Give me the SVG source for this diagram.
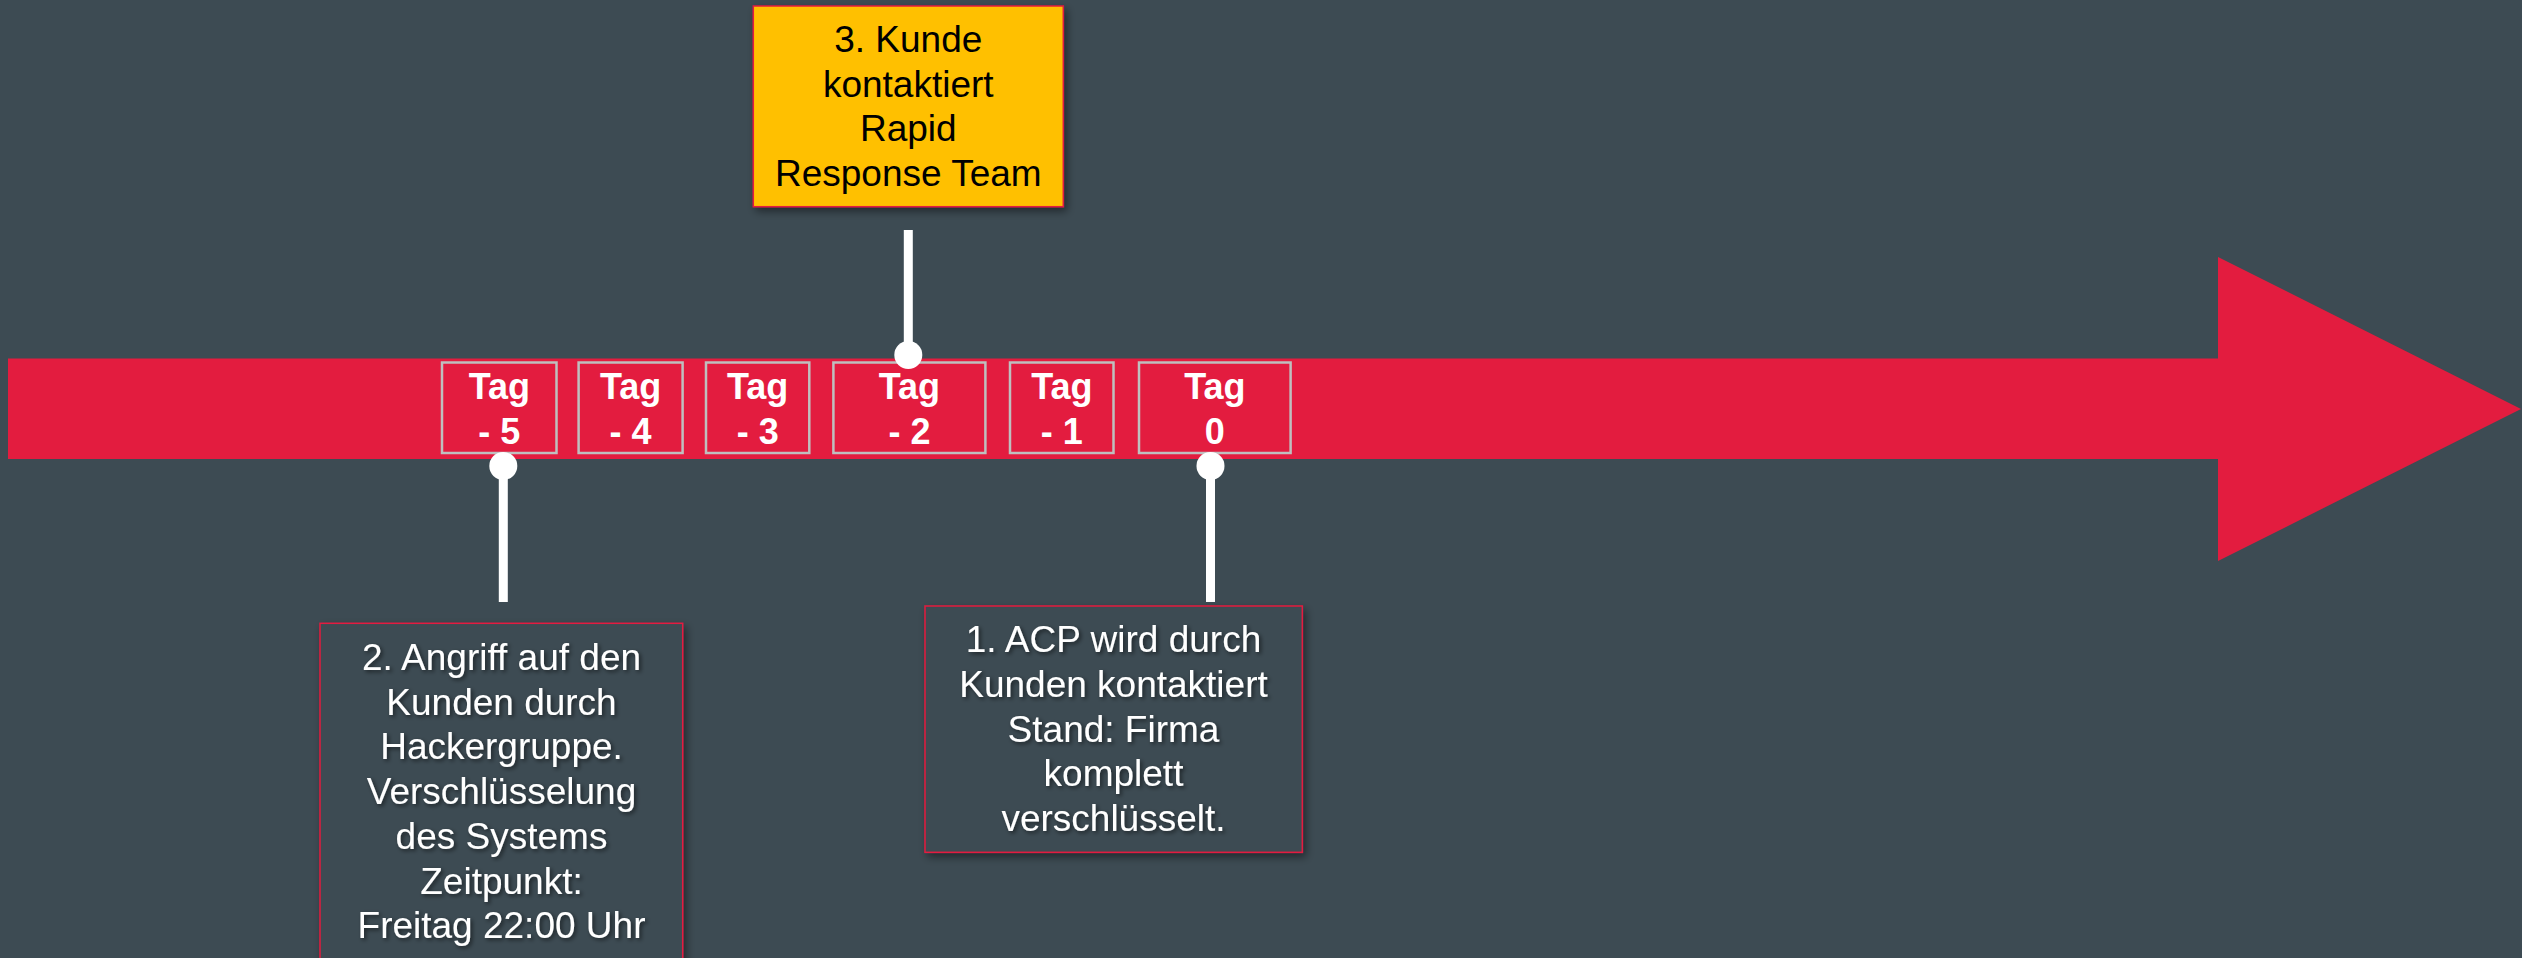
<svg xmlns="http://www.w3.org/2000/svg" width="2522" height="958" viewBox="0 0 2522 958">
  <defs>
    <filter id="boxShadow" x="-10%" y="-10%" width="125%" height="125%">
      <feDropShadow dx="3" dy="4" stdDeviation="4" flood-color="#000" flood-opacity="0.45"/>
    </filter>
    <filter id="textShadow" x="-5%" y="-20%" width="115%" height="150%">
      <feDropShadow dx="2" dy="2" stdDeviation="2" flood-color="#000" flood-opacity="0.55"/>
    </filter>
  </defs>
  <style>
    .tagbox { fill: #E31C3F; stroke: #BFBFBF; stroke-width: 2.5; }
    .tagtxt { font-family: "Liberation Sans", Arial, sans-serif; font-size: 36px; font-weight: bold; fill: #FFFFFF; text-anchor: middle; }
    .note { fill: #3D4B53; stroke: #E31C3F; stroke-width: 1.5; }
    .notetxt { font-family: "Liberation Sans", Arial, sans-serif; font-size: 37px; fill: #FFFFFF; text-anchor: middle; }
    .hl { fill: #FFC000; stroke: #E31C3F; stroke-width: 1.5; }
    .hltxt { font-family: "Liberation Sans", Arial, sans-serif; font-size: 37px; fill: #000000; text-anchor: middle; }
    .conn { stroke: #FFFFFF; stroke-width: 9; fill: none; }
    .dot { fill: #FFFFFF; }
  </style>
  <rect x="0" y="0" width="2522" height="958" fill="#3D4B53"/>

  <g id="timeline-arrow">
    <polygon points="8,358.5 2218,358.5 2218,257 2521,409 2218,561 2218,459 8,459" fill="#E31C3F"/>
  </g>

  <g id="tag-5">
    <rect class="tagbox" x="442" y="362.5" width="114.5" height="90.5"/>
    <text class="tagtxt" x="499.3" y="398.5">Tag</text>
    <text class="tagtxt" x="499.3" y="443.5">- 5</text>
  </g>
  <g id="tag-4">
    <rect class="tagbox" x="578.6" y="362.5" width="104" height="90.5"/>
    <text class="tagtxt" x="630.6" y="398.5">Tag</text>
    <text class="tagtxt" x="630.6" y="443.5">- 4</text>
  </g>
  <g id="tag-3">
    <rect class="tagbox" x="706" y="362.5" width="103.3" height="90.5"/>
    <text class="tagtxt" x="757.7" y="398.5">Tag</text>
    <text class="tagtxt" x="757.7" y="443.5">- 3</text>
  </g>
  <g id="tag-2">
    <rect class="tagbox" x="833.4" y="362.5" width="152" height="90.5"/>
    <text class="tagtxt" x="909.4" y="398.5">Tag</text>
    <text class="tagtxt" x="909.4" y="443.5">- 2</text>
  </g>
  <g id="tag-1">
    <rect class="tagbox" x="1010" y="362.5" width="103.5" height="90.5"/>
    <text class="tagtxt" x="1061.8" y="398.5">Tag</text>
    <text class="tagtxt" x="1061.8" y="443.5">- 1</text>
  </g>
  <g id="tag0">
    <rect class="tagbox" x="1139" y="362.5" width="151.6" height="90.5"/>
    <text class="tagtxt" x="1214.8" y="398.5">Tag</text>
    <text class="tagtxt" x="1214.8" y="443.5">0</text>
  </g>

  <g id="connectors">
    <line class="conn" x1="908.3" y1="230" x2="908.3" y2="355"/>
    <circle class="dot" cx="908.3" cy="355" r="14"/>
    <line class="conn" x1="503.3" y1="466" x2="503.3" y2="602"/>
    <circle class="dot" cx="503.3" cy="466" r="14"/>
    <line class="conn" x1="1210.5" y1="466" x2="1210.5" y2="602"/>
    <circle class="dot" cx="1210.5" cy="466" r="14"/>
  </g>

  <g id="note3">
    <rect class="hl" x="753.3" y="6" width="310" height="200.7" filter="url(#boxShadow)"/>
    <text class="hltxt" x="908.3" y="52">3. Kunde</text>
    <text class="hltxt" x="908.3" y="96.5">kontaktiert</text>
    <text class="hltxt" x="908.3" y="141">Rapid</text>
    <text class="hltxt" x="908.3" y="185.5">Response Team</text>
  </g>

  <g id="note2">
    <rect class="note" x="320" y="623.3" width="362.7" height="360" filter="url(#boxShadow)"/>
    <g filter="url(#textShadow)">
      <text class="notetxt" x="501.5" y="670">2. Angriff auf den</text>
      <text class="notetxt" x="501.5" y="714.7">Kunden durch</text>
      <text class="notetxt" x="501.5" y="759.4">Hackergruppe.</text>
      <text class="notetxt" x="501.5" y="804.1">Verschlüsselung</text>
      <text class="notetxt" x="501.5" y="848.8">des Systems</text>
      <text class="notetxt" x="501.5" y="893.5">Zeitpunkt:</text>
      <text class="notetxt" x="501.5" y="938.2">Freitag 22:00 Uhr</text>
    </g>
  </g>

  <g id="note1">
    <rect class="note" x="925" y="606" width="377.3" height="246.3" filter="url(#boxShadow)"/>
    <g filter="url(#textShadow)">
      <text class="notetxt" x="1113.5" y="652">1. ACP wird durch</text>
      <text class="notetxt" x="1113.5" y="696.8">Kunden kontaktiert</text>
      <text class="notetxt" x="1113.5" y="741.6">Stand: Firma</text>
      <text class="notetxt" x="1113.5" y="786.4">komplett</text>
      <text class="notetxt" x="1113.5" y="831.2">verschlüsselt.</text>
    </g>
  </g>
</svg>
